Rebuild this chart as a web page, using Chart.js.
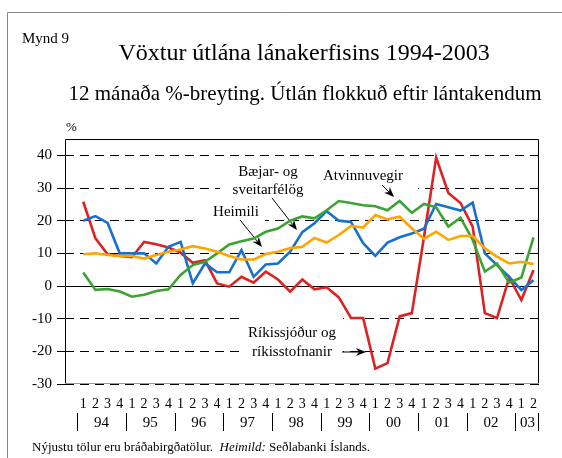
<!DOCTYPE html>
<html>
<head>
<meta charset="utf-8">
<script src="https://cdn.jsdelivr.net/npm/chart.js@4.4.1/dist/chart.umd.min.js"></script>
<style>
  html, body { margin: 0; padding: 0; background: #fff; }
</style>
</head>
<body>
<canvas id="growthChart" width="562" height="458"></canvas>
<script>
// Quarterly data 1994 Q1 - 2003 Q2, 12 month % change
const quarterLabels = ["1","2","3","4","1","2","3","4","1","2","3","4","1","2","3","4","1","2","3","4",
  "1","2","3","4","1","2","3","4","1","2","3","4","1","2","3","4","1","2"];
const years = ["94","95","96","97","98","99","00","01","02","03"];
const yTicks = [-30, -20, -10, 0, 10, 20, 30, 40];

const heimili = [20, 21.4, 19.3, 10, 10, 10, 6.9, 12, 13.5, 0.8, 6.9, 4.2, 4.2, 11, 2.8, 6.6, 6.9, 10.5, 16.5,
  19.2, 22.9, 20, 19.6, 13.1, 9.2, 13.3, 14.9, 16.1, 17.5, 25.1, 24.1, 23.1, 25.5, 10, 6.4, 2.8, -1.2, 1.8];
const atvinnuvegir = [4.1, -1.2, -0.9, -1.7, -3.3, -2.7, -1.5, -1, 3.4, 6.4, 7.4, 10, 12.7, 13.7, 14.5, 16.6, 17.6, 20, 21.3,
  20.7, 23.2, 26, 25.4, 24.7, 24.4, 23.2, 26, 22.4, 25.1, 24.1, 18.2, 20.9, 14.1, 4.4, 6.9, 1, 2.6, 14.9];
const baejarfelog = [9.7, 10, 9.5, 9.2, 9.2, 8.4, 9.5, 10.5, 11.2, 12.2, 11.5, 10.5, 9.2, 8.1, 8.1, 9.8, 10.5, 11.6, 12,
  14.7, 13.3, 15.6, 18.4, 17.9, 21.7, 20.4, 21.2, 17.7, 14.5, 16.6, 14.1, 15.3, 15.3, 11.5, 9, 6.9, 7.4, 6.7];
const rikissjodur = [25.8, 14.6, 9.7, 9.2, 8.8, 13.5, 12.8, 11.8, 10.2, 7.1, 7.9, 0.8, -0.2, 2.8, 1, 4.4, 2, -1.7, 2,
  -1, -0.4, -3.5, -9.8, -9.8, -25.3, -23.6, -9.3, -8.3, 15, 39.3, 28.5, 25.4, 18.2, -8.3, -9.8, 2.6, -4.3, 4.9];

const SERIF = '"Liberation Serif", "DejaVu Serif", serif';

// text labels in the plot, with white box behind them
const notes = [
  { lines: ["Bæjar- og", "sveitarfélög"], x: 268, y: [176, 194], box: [220, 160, 312, 199], arrow: [272, 198, 297, 230] },
  { lines: ["Atvinnuvegir"], x: 363, y: [180], box: [312, 163, 418, 199], arrow: [382, 185, 394, 197] },
  { lines: ["Heimili"], x: 236, y: [216], box: [193, 201, 265, 223], arrow: [240, 220, 262, 247] },
  { lines: ["Ríkissjóður og", "ríkisstofnanir"], x: 292, y: [337, 356], box: [240, 317, 343, 362], arrow: [342, 352, 366, 352] },
];

function series(values) {
  return values.map((v, i) => ({ x: i, y: v }));
}

function drawArrow(ctx, x1, y1, x2, y2) {
  const a = Math.atan2(y2 - y1, x2 - x1);
  const len = 10, half = 4;
  ctx.beginPath();
  ctx.moveTo(x1, y1);
  ctx.lineTo(x2 - Math.cos(a) * len * 0.7, y2 - Math.sin(a) * len * 0.7);
  ctx.stroke();
  ctx.beginPath();
  ctx.moveTo(x2, y2);
  ctx.lineTo(x2 - len * Math.cos(a) + half * Math.sin(a), y2 - len * Math.sin(a) - half * Math.cos(a));
  ctx.lineTo(x2 - len * 0.7 * Math.cos(a), y2 - len * 0.7 * Math.sin(a));
  ctx.lineTo(x2 - len * Math.cos(a) - half * Math.sin(a), y2 - len * Math.sin(a) + half * Math.cos(a));
  ctx.closePath();
  ctx.fill();
}

const decorations = {
  id: "decorations",
  beforeDatasetsDraw(chart) {
    const { ctx, chartArea: area, scales: { y } } = chart;
    ctx.save();
    // zero line
    const y0 = Math.round(y.getPixelForValue(0)) + 0.5;
    ctx.strokeStyle = "#000";
    ctx.lineWidth = 1;
    ctx.beginPath();
    ctx.moveTo(area.left, y0);
    ctx.lineTo(area.right, y0);
    ctx.stroke();
    // notes
    ctx.font = "15px " + SERIF;
    ctx.textAlign = "center";
    notes.forEach(n => {
      ctx.fillStyle = "#fff";
      ctx.fillRect(n.box[0], n.box[1], n.box[2] - n.box[0], n.box[3] - n.box[1]);
      ctx.fillStyle = "#000";
      n.lines.forEach((t, i) => ctx.fillText(t, n.x, n.y[i]));
      drawArrow(ctx, ...n.arrow);
    });
    ctx.restore();
  },
  afterDraw(chart) {
    const { ctx, chartArea: area, scales: { x } } = chart;
    ctx.save();
    // plot frame
    ctx.strokeStyle = "#000";
    ctx.lineWidth = 1;
    const l = Math.round(area.left) + 0.5, r = Math.round(area.right) - 0.5;
    const t = Math.round(area.top) + 0.5, b = Math.round(area.bottom) - 0.5;
    ctx.beginPath();
    ctx.moveTo(l, b); ctx.lineTo(l, t); ctx.lineTo(r, t); ctx.lineTo(r, b);
    ctx.stroke();
    ctx.strokeStyle = "#999";
    ctx.beginPath(); ctx.moveTo(l, b); ctx.lineTo(r, b); ctx.stroke();

    // outer frame
    ctx.strokeStyle = "#888";
    ctx.beginPath();
    ctx.moveTo(7.5, 458); ctx.lineTo(7.5, 12.5); ctx.lineTo(562, 12.5);
    ctx.stroke();

    ctx.fillStyle = "#000";
    ctx.textAlign = "left";
    ctx.font = "15px " + SERIF;
    ctx.fillText("Mynd 9", 22, 43);
    ctx.font = "13px " + SERIF;
    ctx.fillText("%", 66, 131);

    ctx.textAlign = "center";
    ctx.font = "24px " + SERIF;
    ctx.fillText("Vöxtur útlána lánakerfisins 1994-2003", 304, 60);
    ctx.font = "21px " + SERIF;
    ctx.fillText("12 mánaða %-breyting. Útlán flokkuð eftir lántakendum", 305, 100);

    // quarter and year labels under the axis
    ctx.font = "14px " + SERIF;
    quarterLabels.forEach((q, i) => ctx.fillText(q, x.getPixelForValue(i), 407.5));
    ctx.font = "15px " + SERIF;
    ctx.strokeStyle = "#000";
    years.forEach((yr, k) => {
      const first = k * 4;
      const last = Math.min(first + 3, quarterLabels.length - 1);
      ctx.fillText(yr, x.getPixelForValue((first + last) / 2), 426.5);
      const sx = Math.round(x.getPixelForValue(first - 0.5)) + 0.5;
      ctx.beginPath(); ctx.moveTo(sx, 413); ctx.lineTo(sx, 431); ctx.stroke();
    });
    const ex = Math.round(area.right) - 0.5;
    ctx.beginPath(); ctx.moveTo(ex, 413); ctx.lineTo(ex, 431); ctx.stroke();

    // footer
    ctx.textAlign = "left";
    ctx.font = "13px " + SERIF;
    let fx = 32;
    const part1 = "Nýjustu tölur eru bráðabirgðatölur.  ";
    ctx.fillText(part1, fx, 451);
    fx += ctx.measureText(part1).width;
    ctx.font = "italic 13px " + SERIF;
    ctx.fillText("Heimild:", fx, 451);
    fx += ctx.measureText("Heimild:").width;
    ctx.font = "13px " + SERIF;
    ctx.fillText(" Seðlabanki Íslands.", fx, 451);
    ctx.restore();
  }
};

const ctx = document.getElementById("growthChart");
const chart = new Chart(ctx, {
  type: "line",
  data: {
    datasets: [
      { label: "Bæjar- og sveitarfélög", data: series(baejarfelog), borderColor: "#ffa500" },
      { label: "Atvinnuvegir", data: series(atvinnuvegir), borderColor: "#3ca332" },
      { label: "Heimili", data: series(heimili), borderColor: "#1570d0" },
      { label: "Ríkissjóður og ríkisstofnanir", data: series(rikissjodur), borderColor: "#dc2222" },
    ],
  },
  options: {
    responsive: false,
    animation: false,
    layout: { padding: { top: 139, right: 23, bottom: 74, left: 0 } },
    elements: {
      line: { borderWidth: 2.6, tension: 0, fill: false },
      point: { radius: 0 },
    },
    plugins: { legend: { display: false }, tooltip: { enabled: false } },
    scales: {
      x: { type: "linear", min: -1.5, max: 37.45, display: false },
      y: {
        min: -30,
        max: 45,
        afterFit: (scale) => { scale.width = 65; },
        afterBuildTicks: (scale) => { scale.ticks = yTicks.map(v => ({ value: v })); },
        ticks: { color: "#000", font: { family: SERIF, size: 15 }, padding: 5 },
        grid: { color: "#000", lineWidth: 1, tickLength: 8 },
        border: { display: false, dash: [9, 6] },
      },
    },
  },
  plugins: [decorations],
});
</script>
</body>
</html>
